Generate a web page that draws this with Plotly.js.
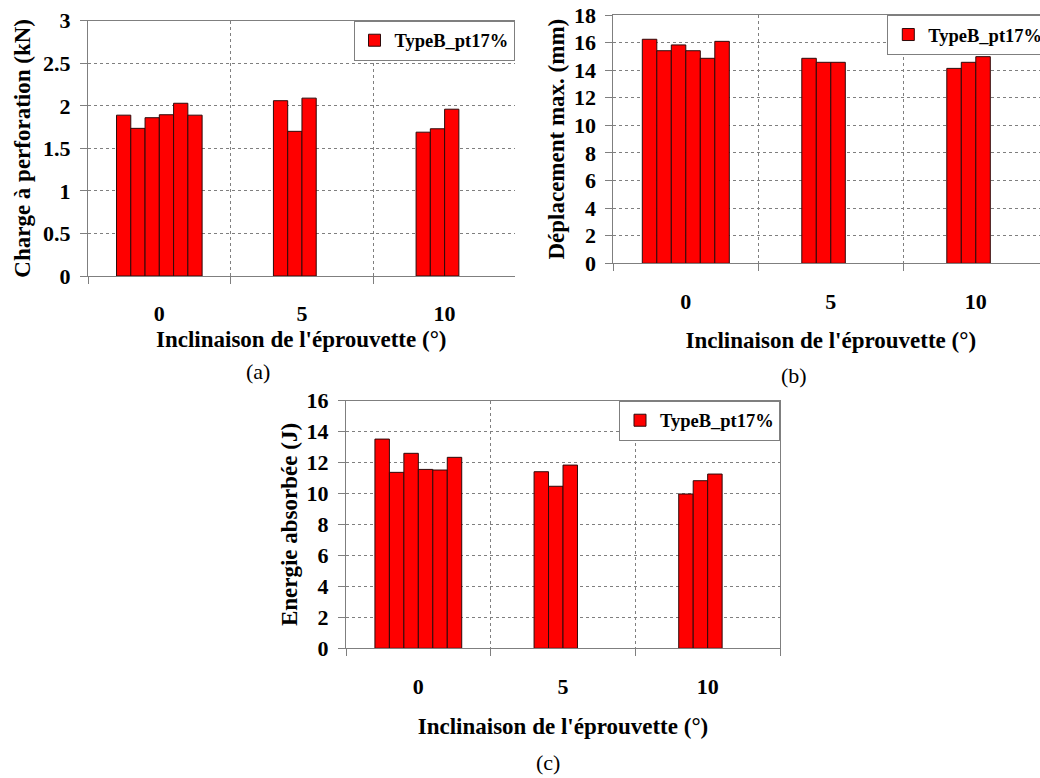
<!DOCTYPE html>
<html>
<head>
<meta charset="utf-8">
<script src="https://cdn.plot.ly/plotly-3.0.1.min.js"></script>
<style>
html, body { margin: 0; padding: 0; background: #ffffff; overflow: hidden; }
#chart { width: 1050px; height: 778px; }
</style>
</head>
<body>
<div id="chart"></div>
<script>
// ---- data ----
const categories = ['0', '5', '10'];
const legendName = 'TypeB_pt17%';
const xTitle = "Inclinaison de l'éprouvette (°)";

// each row = one specimen series across the three inclinations (null = no test)
const chargePerforation = [
  [1.89, null, null],
  [1.735, 2.06, 1.69],
  [1.86, 1.70, 1.73],
  [1.895, 2.09, 1.96],
  [2.03, null, null],
  [1.89, null, null]
];
const deplacementMax = [
  [16.24, null, null],
  [15.41, 14.86, 14.13],
  [15.83, 14.57, 14.57],
  [15.41, 14.57, 14.98],
  [14.86, null, null],
  [16.09, null, null]
];
const energieAbsorbee = [
  [13.52, null, null],
  [11.37, 11.41, 9.97],
  [12.60, 10.47, 10.83],
  [11.56, 11.84, 11.26],
  [11.52, null, null],
  [12.34, null, null]
];

const W = 1050, H = 778;
const serif = 'Liberation Serif';
const gray = '#7f7f7f';
const tickSize = 22, titleSize = 23;

function px(x) { return x / W; }
function py(y) { return (H - y) / H; }

const panels = [
  { data: chargePerforation, xa: 'x', ya: 'y', leg: 'legend', ytitle: 'Charge à perforation (kN)' },
  { data: deplacementMax, xa: 'x2', ya: 'y2', leg: 'legend2', ytitle: 'Déplacement max. (mm)' },
  { data: energieAbsorbee, xa: 'x3', ya: 'y3', leg: 'legend3', ytitle: 'Energie absorbée (J)' }
];

const traces = [];
panels.forEach((p, k) => {
  p.data.forEach((series, i) => {
    traces.push({
      type: 'bar',
      x: categories,
      y: series,
      xaxis: p.xa,
      yaxis: p.ya,
      name: legendName,
      legend: p.leg,
      legendgroup: 'g' + k,
      showlegend: i === 0,
      marker: { color: '#ff0000', line: { color: '#2e0a0a', width: 1 } },
      hoverinfo: 'y'
    });
  });
});

function xaxis(anchor, domain, range, labelStandoff, titleStandoff) {
  return {
    anchor: anchor,
    domain: domain,
    type: 'category',
    range: range,
    tickson: 'boundaries',
    ticks: 'outside',
    ticklen: 7,
    tickcolor: gray,
    tickwidth: 1,
    ticklabelstandoff: labelStandoff,
    showline: true,
    linecolor: gray,
    linewidth: 1,
    mirror: true,
    showgrid: true,
    gridcolor: gray,
    gridwidth: 1,
    griddash: 'dot',
    zeroline: false,
    fixedrange: true,
    tickfont: { family: serif, size: tickSize, color: '#000', weight: 'bold' },
    title: { text: xTitle, standoff: titleStandoff, font: { family: serif, size: titleSize, color: '#000', weight: 'bold' } }
  };
}
function yaxis(anchor, domain, range, dtick, title, mirror, titleStandoff) {
  return {
    anchor: anchor,
    domain: domain,
    range: range,
    dtick: dtick,
    tick0: 0,
    ticks: 'outside',
    ticklen: 7,
    tickcolor: gray,
    ticklabelstandoff: 5,
    showline: true,
    linecolor: gray,
    linewidth: 1,
    mirror: mirror,
    showgrid: true,
    gridcolor: gray,
    gridwidth: 1,
    griddash: 'dot',
    zeroline: false,
    fixedrange: true,
    tickfont: { family: serif, size: tickSize, color: '#000', weight: 'bold' },
    title: { text: title, standoff: titleStandoff, font: { family: serif, size: titleSize, color: '#000', weight: 'bold' } }
  };
}

function legendAt(xr, yt) {
  return {
    x: xr, y: yt, xanchor: 'right', yanchor: 'top',
    xref: 'paper', yref: 'paper',
    bgcolor: '#ffffff', bordercolor: gray, borderwidth: 1,
    font: { family: serif, size: 18.5, color: '#000', weight: 'bold' },
    itemclick: false, itemdoubleclick: false
  };
}

const layout = {
  width: W, height: H,
  margin: { l: 0, r: 0, t: 0, b: 0 },
  paper_bgcolor: '#ffffff',
  plot_bgcolor: '#ffffff',
  barmode: 'group',
  bargap: 0.4,
  bargroupgap: 0,
  showlegend: true,
  xaxis: xaxis('y', [px(88), px(514.5)], [-0.5, 2.49], 18, 4.5),
  yaxis: yaxis('x', [py(276), py(20.7)], [0, 3], 0.5, panels[0].ytitle, false, 5.5),
  xaxis2: xaxis('y2', [px(613.3), px(1048.3)], [-0.5, 2.5], 18, 19),
  yaxis2: yaxis('x2', [py(263.3), py(15)], [0, 18], 2, panels[1].ytitle, false, 2),
  xaxis3: xaxis('y3', [px(346), px(780)], [-0.5, 2.5], 18, 20),
  yaxis3: yaxis('x3', [py(648.3), py(400.7)], [0, 16], 2, panels[2].ytitle, true, 2.5),
  legend: legendAt(px(514.5), py(20.7)),
  legend2: legendAt(px(1048.3), py(15)),
  legend3: legendAt(px(780), py(400.7)),
  annotations: [
    { text: '(a)', x: px(258), y: py(372), xref: 'paper', yref: 'paper', showarrow: false, xanchor: 'center', yanchor: 'middle', font: { family: serif, size: 22, color: '#000' } },
    { text: '(b)', x: px(794), y: py(375), xref: 'paper', yref: 'paper', showarrow: false, xanchor: 'center', yanchor: 'middle', font: { family: serif, size: 22, color: '#000' } },
    { text: '(c)', x: px(548), y: py(762), xref: 'paper', yref: 'paper', showarrow: false, xanchor: 'center', yanchor: 'middle', font: { family: serif, size: 22, color: '#000' } }
  ]
};

Plotly.newPlot('chart', traces, layout, { displayModeBar: false, staticPlot: true });
</script>
</body>
</html>
